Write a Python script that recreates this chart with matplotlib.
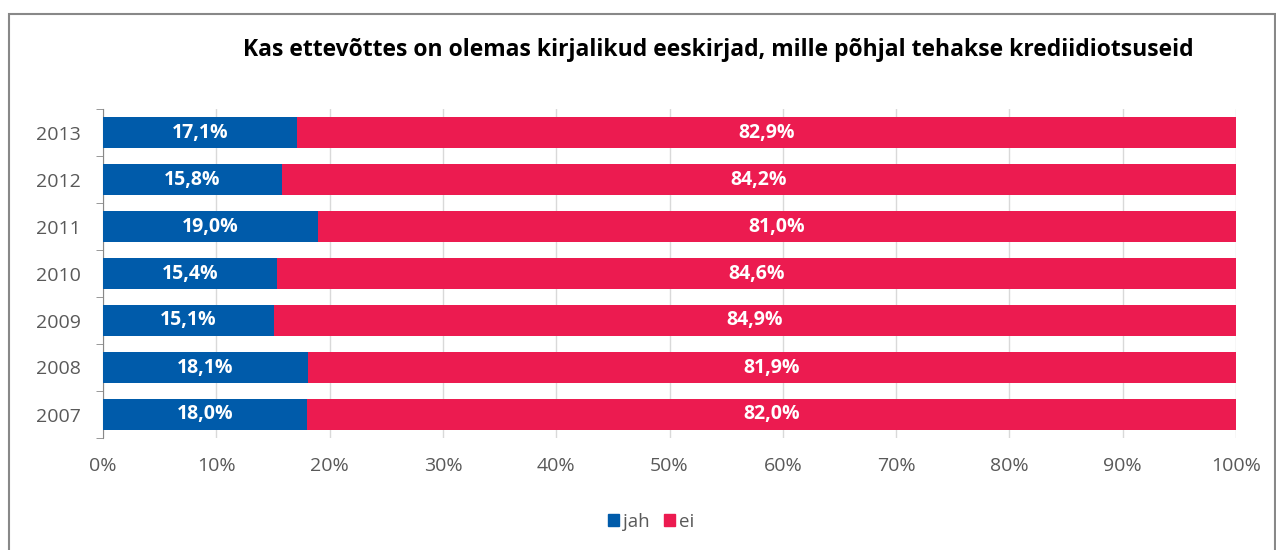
import matplotlib.pyplot as plt
from matplotlib.patches import Rectangle, Patch

years = ["2007", "2008", "2009", "2010", "2011", "2012", "2013"]
jah = [18.0, 18.1, 15.1, 15.4, 19.0, 15.8, 17.1]
ei = [82.0, 81.9, 84.9, 84.6, 81.0, 84.2, 82.9]

blue = "#005BAA"
red = "#EC1B50"
plt.rcParams['font.family'] = ['Open Sans', 'DejaVu Sans']

fig = plt.figure(figsize=(12.76, 5.5), dpi=100)
ax = fig.add_axes([103 / 1276, 112 / 550, 1133 / 1276, 329 / 550])

y = range(len(years))
ax.barh(y, jah, height=0.66, color=blue, zorder=3)
ax.barh(y, ei, left=jah, height=0.66, color=red, zorder=3)

# data labels in the middle of each segment
for i in y:
    ax.text(jah[i] / 2, i, f"{jah[i]:.1f}%".replace(".", ","), color="white",
            fontsize=14, fontweight="bold", ha="center", va="center", zorder=4)
    ax.text(jah[i] + ei[i] / 2, i, f"{ei[i]:.1f}%".replace(".", ","), color="white",
            fontsize=14, fontweight="bold", ha="center", va="center", zorder=4)

ax.set_xlim(0, 100)
ax.set_ylim(-0.5, 6.5)
ax.set_yticks(list(y))
ax.set_yticklabels(years)
ax.set_xticks(range(0, 101, 10))
ax.set_xticklabels([f"{v}%" for v in range(0, 101, 10)])
ax.tick_params(axis="x", colors="#595959", labelsize=14, length=0, pad=14)
ax.tick_params(axis="y", which="major", colors="#595959", labelsize=14, length=0, pad=16)
ax.set_yticks([i - 0.5 for i in range(8)], minor=True)
ax.tick_params(axis="y", which="minor", length=5, color="#888888")
ax.grid(axis="x", color="#D9D9D9", linewidth=1, zorder=0)
for s in ["top", "right", "bottom"]:
    ax.spines[s].set_visible(False)
ax.spines["left"].set_color("#888888")

fig.text(718 / 1276, 1 - 50 / 550, "Kas ettevõttes on olemas kirjalikud eeskirjad, mille põhjal tehakse krediidiotsuseid",
         ha="center", va="center", fontsize=16.5, fontweight="bold", color="black")

handles = [Patch(color=blue, label="jah"), Patch(color=red, label="ei")]
fig.legend(handles=handles, loc="center", bbox_to_anchor=(651 / 1276, 1 - 522 / 550), ncol=2,
           frameon=False, fontsize=13.5, labelcolor="#595959", handlelength=0.6, handleheight=0.6,
           handletextpad=0.2, columnspacing=0.8)

fig.patches.append(Rectangle((9 / 1276, -0.01), 1266 / 1276, 1 - 14 / 550 + 0.01,
                             transform=fig.transFigure, fill=False, edgecolor="#888888", linewidth=1.5))

fig.savefig("out.png", dpi=100)
